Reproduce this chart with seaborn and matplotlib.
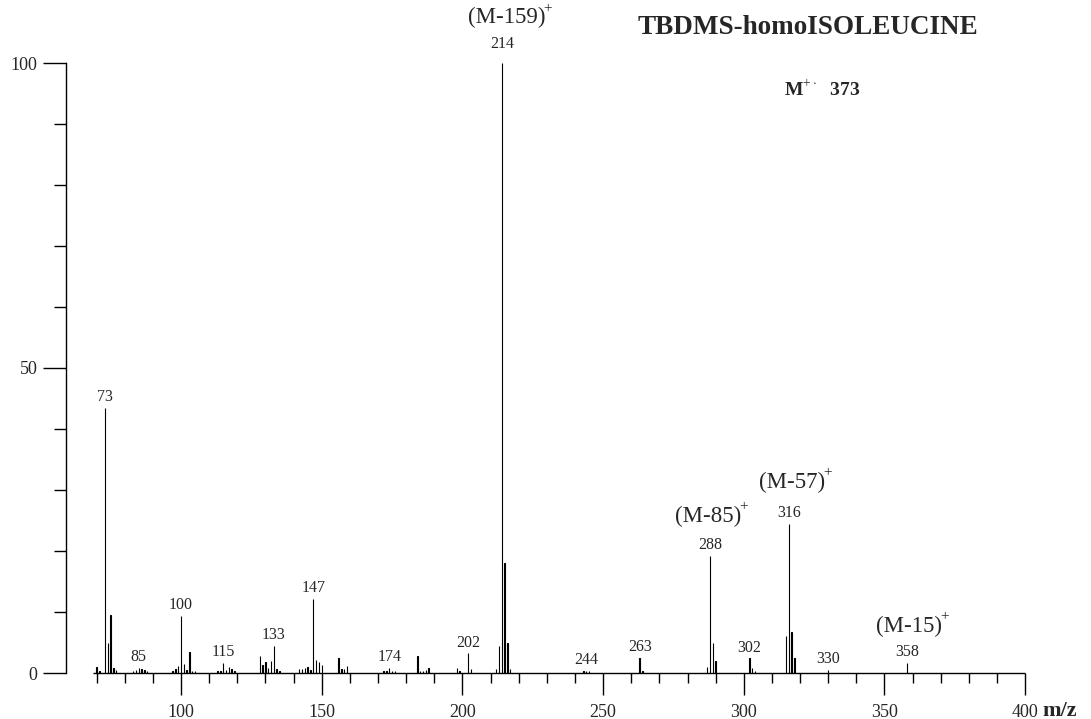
import pandas as pd
import seaborn as sns
import matplotlib.pyplot as plt
from matplotlib.ticker import FixedLocator

# ---------------- data ----------------
mz = [70, 71, 73, 74, 75, 76, 77,
      83, 84, 85, 86, 87, 88,
      97, 98, 99, 100, 101, 102, 103, 104, 105,
      113, 114, 115, 116, 117, 118, 119,
      128, 129, 130, 131, 132, 133, 134, 135,
      142, 143, 144, 145, 146, 147, 148, 149, 150,
      156, 157, 158, 159,
      172, 173, 174, 175, 176,
      184, 185, 186, 187, 188,
      198, 199, 202, 203,
      212, 213, 214, 215, 216, 217,
      243, 244, 245,
      263, 264,
      287, 288, 289, 290,
      302, 303, 304,
      315, 316, 317, 318,
      330, 358]
intensity = [1.0, 0.4, 43.4, 5.0, 9.5, 0.8, 0.5,
             0.4, 0.5, 0.8, 0.7, 0.5, 0.3,
             0.4, 0.6, 1.2, 9.4, 1.5, 0.5, 3.5, 0.4, 0.3,
             0.3, 0.3, 1.7, 0.5, 1.0, 0.7, 0.4,
             2.8, 1.3, 1.8, 0.8, 1.9, 4.5, 0.6, 0.3,
             0.6, 0.6, 0.8, 1.0, 0.5, 12.1, 2.1, 1.8, 1.3,
             2.4, 0.6, 0.6, 1.1,
             0.3, 0.4, 0.9, 0.4, 0.3,
             2.8, 0.4, 0.3, 0.5, 0.8,
             0.8, 0.4, 3.2, 0.7,
             0.6, 4.5, 100.0, 18.0, 5.0, 0.7,
             0.3, 0.4, 0.3,
             2.5, 0.4,
             1.0, 19.2, 4.9, 2.0,
             2.4, 0.9, 0.4,
             6.0, 24.5, 6.8, 2.5,
             0.5, 1.6]

labelled_peaks = [73, 85, 100, 115, 133, 147, 174, 202, 214, 244, 263,
                  288, 302, 316, 330, 358]

ion_names = ["(M-159)", "(M-85)", "(M-57)", "(M-15)"]
ion_x = [215.6, 287.2, 317.2, 358.7]
ion_y = [107.4, 25.7, 31.3, 7.7]

df = pd.DataFrame({"mz": mz, "intensity": intensity})

# ---------------- style ----------------
sns.set_style("ticks")
plt.rcParams["font.family"] = ["Liberation Serif", "DejaVu Serif"]
plt.rcParams["mathtext.fontset"] = "custom"
plt.rcParams["mathtext.rm"] = "Liberation Serif"
plt.rcParams["mathtext.bf"] = "Liberation Serif:bold"

fig = plt.figure(figsize=(10.91, 7.19), dpi=100)
ax = fig.add_axes([66 / 1091, 46 / 719, (1028 - 66) / 1091, 610 / 719])

# thin sticks: narrow bars with a 1px black outline
sns.barplot(data=df, x="mz", y="intensity", native_scale=True, width=0.12,
            color="black", saturation=1, errorbar=None, linewidth=0.8,
            edgecolor="black", ax=ax)

ax.set_xlim(59.14, 401)
ax.set_ylim(0, 100)
ax.set_xlabel("")
ax.set_ylabel("")

for side in ["top", "right", "bottom"]:
    ax.spines[side].set_visible(False)
ax.spines["left"].set_linewidth(1.0)
ax.spines["left"].set_color("black")

# baseline of the spectrum
ax.hlines(0, 68.8, 400, color="black", lw=1.0, clip_on=False)

# ticks
ax.xaxis.set_major_locator(FixedLocator(list(range(100, 401, 50))))
ax.xaxis.set_minor_locator(FixedLocator([v for v in range(70, 401, 10) if v % 50]))
ax.yaxis.set_major_locator(FixedLocator([0, 50, 100]))
ax.yaxis.set_minor_locator(FixedLocator([v for v in range(10, 100, 10) if v != 50]))

ax.tick_params(axis="x", which="major", direction="out", length=16, width=1,
               pad=6, labelsize=13, color="black")
ax.tick_params(axis="x", which="minor", direction="out", length=7.5, width=1,
               color="black")
ax.tick_params(axis="y", which="major", direction="out", length=16.5, width=1,
               pad=4, labelsize=13, color="black")
ax.tick_params(axis="y", which="minor", direction="out", length=8.5, width=1,
               color="black")

# peak labels
lookup = dict(zip(mz, intensity))
for m in labelled_peaks:
    lift = 8 if m == 214 else 2
    ax.annotate(str(m), xy=(m, lookup[m]), xytext=(0, lift),
                textcoords="offset points", ha="center", va="bottom",
                fontsize=11.5, annotation_clip=False)

# fragment ion labels, with the "+" hung on the top right of each
for name, x, y in zip(ion_names, ion_x, ion_y):
    base = ax.text(x, y, name, ha="center", va="center", fontsize=16.5,
                   clip_on=False)
    ax.annotate("+", xy=(1, 0.95), xycoords=base, xytext=(-1.5, 0),
                textcoords="offset points", ha="left", va="center",
                fontsize=11)

fig.text(0.7406, 0.9624, "TBDMS-homoISOLEUCINE", ha="center", va="center",
         fontsize=19.5, fontweight="bold")
fig.text(0.7535, 0.8748, r"$\mathbf{M}^{+\cdot}$  373", ha="center", va="center",
         fontsize=14, fontweight="bold")
fig.text(0.9715, 0.0111, "m/z", ha="center", va="center", fontsize=16,
         fontweight="bold")

plt.savefig("out.png", dpi=100)
